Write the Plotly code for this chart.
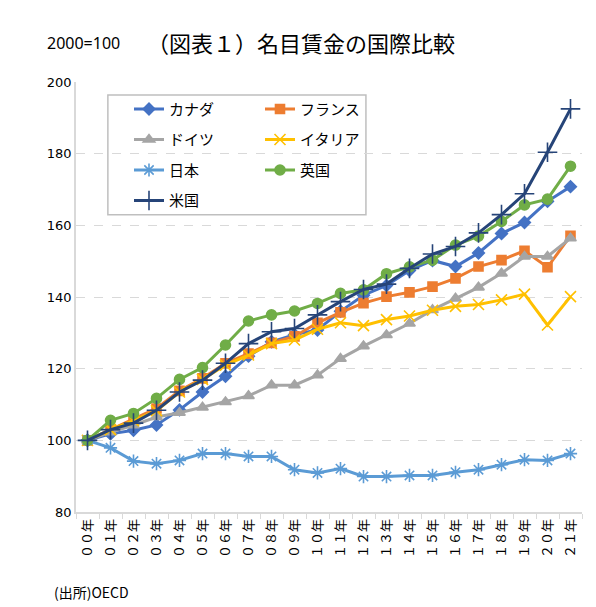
import plotly.graph_objects as go

years = ["００年", "０１年", "０２年", "０３年", "０４年", "０５年", "０６年", "０７年", "０８年", "０９年", "１０年",
         "１１年", "１２年", "１３年", "１４年", "１５年", "１６年", "１７年", "１８年", "１９年", "２０年", "２１年"]

canada = [100, 101.8, 102.8, 104.3, 108.5, 113.5, 117.9, 123.5, 127.5, 129.5, 130.8, 136.0, 140.5, 143.2,
          147.4, 150.2, 148.5, 152.3, 157.7, 160.8, 166.7, 170.8]
france = [100, 103.0, 105.8, 108.9, 113.8, 117.3, 121.5, 124.2, 127.2, 129.0, 132.8, 135.7, 138.3, 140.1,
          141.3, 142.9, 145.2, 148.5, 150.3, 152.9, 148.3, 157.1]
germany = [100, 102.3, 104.2, 106.5, 107.7, 109.2, 110.7, 112.4, 115.4, 115.4, 118.2, 122.8, 126.3, 129.4,
           132.6, 136.4, 139.6, 142.7, 146.6, 151.3, 151.3, 156.4]
italy = [100, 103.0, 105.5, 108.3, 113.5, 117.0, 121.0, 123.8, 127.0, 128.0, 131.0, 132.8, 132.0, 133.7,
         134.7, 136.3, 137.4, 137.9, 139.2, 140.8, 132.2, 140.1]
japan = [100, 97.9, 94.2, 93.5, 94.4, 96.3, 96.3, 95.5, 95.5, 91.8, 90.9, 92.1, 89.9, 89.9,
         90.2, 90.2, 91.1, 91.8, 93.2, 94.6, 94.4, 96.3]
uk = [100, 105.6, 107.5, 111.7, 117.0, 120.3, 126.6, 133.3, 135.0, 136.1, 138.2, 141.0, 142.0, 146.5,
      148.4, 150.3, 154.5, 157.0, 161.1, 165.7, 167.3, 176.5]
us = [100, 103.0, 104.8, 108.4, 113.5, 116.8, 121.5, 127.0, 130.3, 131.2, 135.0, 138.7, 142.1, 143.6,
      148.0, 152.0, 154.1, 157.9, 163.0, 168.8, 180.4, 192.5]

y_ticks = [80, 100, 120, 140, 160, 180, 200]

series = [
    ("カナダ", canada, "#4472C4", "diamond", 9, "legend"),
    ("フランス", france, "#ED7D31", "square", 9, "legend2"),
    ("ドイツ", germany, "#A5A5A5", "triangle-up", 10, "legend"),
    ("イタリア", italy, "#FFC000", "x-thin-open", 11, "legend2"),
    ("日本", japan, "#5B9BD5", "asterisk-open", 11, "legend"),
    ("英国", uk, "#70AD47", "circle", 10, "legend2"),
    ("米国", us, "#264478", "cross-thin-open", 14, "legend"),
]

fig = go.Figure()
for name, vals, color, sym, size, lg in series:
    fig.add_trace(go.Scatter(
        x=years, y=vals, name=name, mode="lines+markers",
        line=dict(color=color, width=3),
        marker=dict(symbol=sym, size=size, color=color, line=dict(color=color, width=1.6)),
        legend=lg, legendgroup=name,
    ))

plot_w = 596 - 76 - 14
plot_h = 607 - 82 - 95

legend_font = dict(family="Noto Sans CJK JP", size=15, color="#000000")
fig.update_layout(
    width=596, height=607,
    margin=dict(l=76, r=14, t=82, b=95),
    paper_bgcolor="white", plot_bgcolor="white",
    font=dict(family="DejaVu Sans", size=12, color="#000000"),
    showlegend=True,
    legend=dict(x=(129 - 76) / plot_w, y=0.975, xanchor="left", yanchor="top", bgcolor="rgba(0,0,0,0)",
                font=legend_font, tracegroupgap=8, itemwidth=30),
    legend2=dict(x=(260 - 76) / plot_w, y=0.975, xanchor="left", yanchor="top", bgcolor="rgba(0,0,0,0)",
                 font=legend_font, tracegroupgap=8, itemwidth=30),
    xaxis=dict(
        type="category", range=[-0.5, 21.5],
        showgrid=False, showline=True, linecolor="#D9D9D9", linewidth=1.5,
        ticks="outside", tickson="boundaries", ticklen=5, tickcolor="#D9D9D9",
        tickangle=-90, tickfont=dict(family="Noto Sans CJK JP", size=13, color="#000000"),
    ),
    yaxis=dict(
        range=[80, 200], tickvals=y_ticks, showgrid=True, gridcolor="#D9D9D9", griddash="dash",
        gridwidth=1, showline=True, linecolor="#D9D9D9", linewidth=1.5, ticks="",
        zeroline=False, tickfont=dict(family="DejaVu Sans", size=13, color="#000000"),
    ),
    shapes=[dict(type="rect", xref="paper", yref="paper", x0=0.063, x1=0.573, y0=0.691, y1=0.970,
                 line=dict(color="#BFBFBF", width=1.5), fillcolor="white", layer="between")],
)

anns = []
specs = [
    ("2000=100", 45, 43, dict(family="Noto Sans", size=16)),
    ("（図表１）名目賃金の国際比較", 145, 42, dict(family="Noto Sans CJK JP", size=22)),
    ("(出所)OECD", 52, 592, dict(family="Noto Sans CJK JP", size=14)),
]
for text, px, py, f in specs:
    anns.append(dict(text=text, x=(px - 76) / plot_w, y=(607 - 95 - py) / plot_h, xref="paper", yref="paper",
                     xanchor="left", yanchor="middle", showarrow=False, font=dict(color="#000000", **f)))
fig.update_layout(annotations=anns)

fig.write_html("out.html")
